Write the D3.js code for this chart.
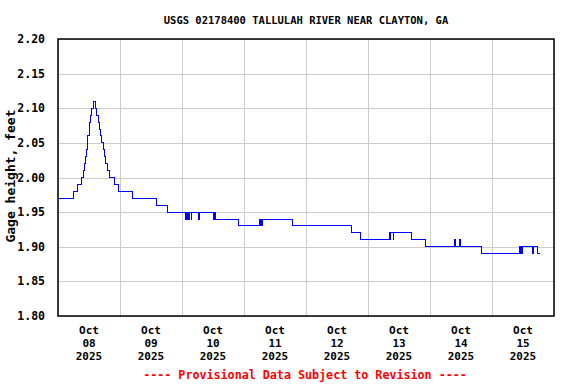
<!DOCTYPE html>
<html>
<head>
<meta charset="utf-8">
<script src="https://cdn.jsdelivr.net/npm/d3@7"></script>
<style>
  body { margin: 0; background: #fff; }
  svg text { font-family: "DejaVu Sans Mono", monospace; font-weight: bold; }
</style>
</head>
<body>
<div id="chart"></div>
<script>
// gage height readings, step changes only (hours after Oct 08 2025 00:00)
var stepHours = [0, 6, 7.5, 9, 9.75, 10.25, 10.5, 11, 11.25, 11.5, 12, 12.25, 12.75, 13, 13.75,
  14.5, 15, 15.5, 16, 16.5, 17, 17.5, 18, 18.5, 19.25, 20, 22, 23.5, 28.75, 38, 42.25,
  49.25, 49.5, 49.75, 50, 50.25, 50.5, 50.75, 51, 51.5, 51.75, 54.25, 54.75,
  60, 60.5, 61, 69.75, 78, 78.25, 78.5, 78.75, 79, 90.75, 113.75, 117,
  128.25, 128.5, 128.75, 129.75, 130, 137, 142.25,
  153.5, 153.75, 155.5, 155.75, 164, 178.75, 179, 179.25, 179.5, 179.75,
  183.5, 184, 185.5, 186.75];
var stageFeet = [1.97, 1.98, 1.99, 2.00, 2.01, 2.02, 2.03, 2.04, 2.05, 2.06, 2.07, 2.08, 2.09, 2.10, 2.11,
  2.10, 2.09, 2.08, 2.07, 2.06, 2.05, 2.04, 2.03, 2.02, 2.01, 2.00, 1.99, 1.98, 1.97, 1.96, 1.95,
  1.94, 1.95, 1.94, 1.95, 1.94, 1.95, 1.94, 1.95, 1.94, 1.95, 1.94, 1.95,
  1.94, 1.95, 1.94, 1.93, 1.94, 1.93, 1.94, 1.93, 1.94, 1.93, 1.92, 1.91,
  1.92, 1.91, 1.92, 1.91, 1.92, 1.91, 1.90,
  1.91, 1.90, 1.91, 1.90, 1.89, 1.90, 1.89, 1.90, 1.89, 1.90,
  1.89, 1.90, 1.89, 1.89];
var yTicks = [1.80, 1.85, 1.90, 1.95, 2.00, 2.05, 2.10, 2.15, 2.20];
var startDay = Date.UTC(2025, 9, 8);
var endDay = Date.UTC(2025, 9, 16);

var width = 576, height = 384;
var plotL = 58, plotR = 554, plotT = 39, plotB = 316;

var svg = d3.select("#chart").append("svg")
    .attr("width", width)
    .attr("height", height);

var x = d3.scaleUtc().domain([new Date(startDay), new Date(endDay)]).range([plotL, plotR]);
var y = d3.scaleLinear().domain([1.80, 2.20]).range([plotB, plotT]);

// grid
var days = d3.utcDay.range(new Date(startDay), new Date(endDay + 1));
svg.append("g").selectAll("line").data(days).enter().append("line")
    .attr("x1", function (d) { return Math.round(x(d)) + 0.5; })
    .attr("x2", function (d) { return Math.round(x(d)) + 0.5; })
    .attr("y1", plotT).attr("y2", plotB)
    .style("stroke", "#cccccc");
svg.append("g").selectAll("line").data(yTicks).enter().append("line")
    .attr("x1", plotL).attr("x2", plotR)
    .attr("y1", function (d) { return Math.round(y(d)) + 0.5; })
    .attr("y2", function (d) { return Math.round(y(d)) + 0.5; })
    .style("stroke", "#cccccc");

// data line
var data = stepHours.map(function (h, i) {
  return { t: new Date(startDay + h * 3600e3), v: stageFeet[i] };
});
var line = d3.line()
    .x(function (d) { return x(d.t); })
    .y(function (d) { return y(d.v); })
    .curve(d3.curveStepAfter);
svg.append("path").datum(data)
    .attr("d", line)
    .attr("fill", "none")
    .attr("stroke", "#0000ff")
    .attr("stroke-width", 1)
    .attr("shape-rendering", "crispEdges");

// frame
svg.append("rect")
    .attr("x", plotL).attr("y", plotT)
    .attr("width", plotR - plotL).attr("height", plotB - plotT)
    .attr("fill", "none").attr("stroke", "#000").attr("stroke-width", 1.5);

// y tick labels
svg.append("g").selectAll("text").data(yTicks).enter().append("text")
    .attr("x", 45)
    .attr("y", function (d) { return y(d) + 4; })
    .attr("text-anchor", "end")
    .style("font-size", "11.5px")
    .text(d3.format(".2f"));

// x labels at noon of each day
var labelDays = d3.utcDay.range(new Date(startDay), new Date(endDay));
var fmt = [d3.utcFormat("%b"), d3.utcFormat("%d"), d3.utcFormat("%Y")];
var xl = svg.append("g").selectAll("text").data(labelDays).enter().append("text")
    .attr("text-anchor", "middle")
    .style("font-size", "11px");
fmt.forEach(function (f, k) {
  xl.append("tspan")
    .attr("x", function (d) { return x(d3.utcHour.offset(d, 12)); })
    .attr("y", 334 + k * 13)
    .text(f);
});

// title
svg.append("text")
    .attr("x", 306).attr("y", 24)
    .attr("text-anchor", "middle")
    .style("font-size", "10.5px")
    .text("USGS 02178400 TALLULAH RIVER NEAR CLAYTON, GA");

// y axis label
svg.append("text")
    .attr("transform", "translate(15,176) rotate(-90)")
    .attr("text-anchor", "middle")
    .style("font-size", "13px")
    .text("Gage height, feet");

// footer
svg.append("text")
    .attr("x", 305).attr("y", 379)
    .attr("text-anchor", "middle")
    .style("font-size", "11.7px")
    .style("fill", "#ff0000")
    .text("---- Provisional Data Subject to Revision ----");
</script>
</body>
</html>
